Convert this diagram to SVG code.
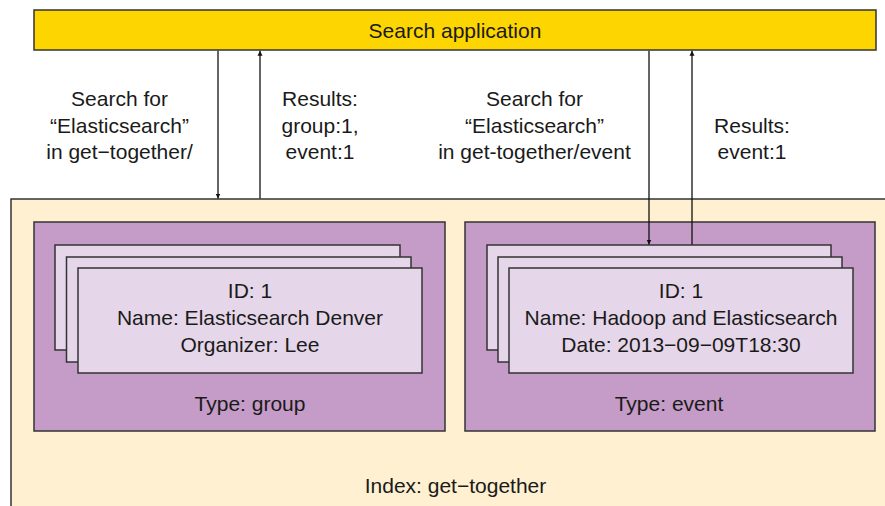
<svg xmlns="http://www.w3.org/2000/svg" width="885" height="506" viewBox="0 0 885 506">
<style>
text{font-family:"Liberation Sans",Arial,sans-serif;font-size:21px;fill:#1a1a1a;text-anchor:middle}
.box{stroke:#333;stroke-width:1.5}
.idx{fill:#FEF0D0}
.app{fill:#FDD500}
.type{fill:#C59BC8}
.card{fill:#E5D6E9}
.c{stroke:#111;stroke-width:1.3;fill:none}
</style>
<defs>
<marker id="ah" viewBox="0 0 10 10" refX="10" refY="5" markerWidth="5" markerHeight="9" orient="auto" markerUnits="userSpaceOnUse">
<path d="M0,0 L10,5 L0,10 z" fill="#111"/>
</marker>
</defs>
<g id="index">
<rect class="box idx" x="11" y="199" width="890" height="320"/>
<text x="455.5" y="493">Index: get−together</text>
</g>
<g id="app">
<rect class="box app" x="34" y="10" width="842" height="40"/>
<text x="455" y="38">Search application</text>
</g>
<g id="type-group">
<rect class="box type" x="34" y="222" width="411" height="209"/>
<rect class="box card" x="55" y="245" width="345" height="105"/>
<rect class="box card" x="66.5" y="257" width="344.5" height="105"/>
<rect class="box card" x="78" y="268" width="344" height="105"/>
<text x="250" y="298">ID: 1</text>
<text x="250" y="325">Name: Elasticsearch Denver</text>
<text x="250" y="352">Organizer: Lee</text>
<text x="250" y="411">Type: group</text>
</g>
<g id="type-event">
<rect class="box type" x="465" y="222" width="410" height="209"/>
<rect class="box card" x="487" y="245" width="344" height="105"/>
<rect class="box card" x="498" y="257" width="344" height="105"/>
<rect class="box card" x="509" y="268" width="344" height="105"/>
<text x="681" y="298">ID: 1</text>
<text x="681" y="325">Name: Hadoop and Elasticsearch</text>
<text x="681" y="352">Date: 2013−09−09T18:30</text>
<text x="669" y="411">Type: event</text>
</g>
<g id="labels">
<text x="119.5" y="106">Search for</text>
<text x="119.5" y="132.5">“Elasticsearch”</text>
<text x="119.5" y="159">in get−together/</text>
<text x="320" y="106">Results:</text>
<text x="320" y="132.5">group:1,</text>
<text x="320" y="159">event:1</text>
<text x="534.5" y="106">Search for</text>
<text x="534.5" y="132.5">“Elasticsearch”</text>
<text x="534.5" y="159">in get-together/event</text>
<text x="752" y="132.5">Results:</text>
<text x="752" y="159">event:1</text>
</g>
<g id="connectors">
<line class="c" x1="218" y1="50.8" x2="218" y2="198.5" marker-end="url(#ah)"/>
<line class="c" x1="260" y1="198.5" x2="260" y2="50.8" marker-end="url(#ah)"/>
<line class="c" x1="649" y1="50.8" x2="649" y2="244.5" marker-end="url(#ah)"/>
<line class="c" x1="692" y1="244.5" x2="692" y2="50.8" marker-end="url(#ah)"/>
</g>
</svg>
